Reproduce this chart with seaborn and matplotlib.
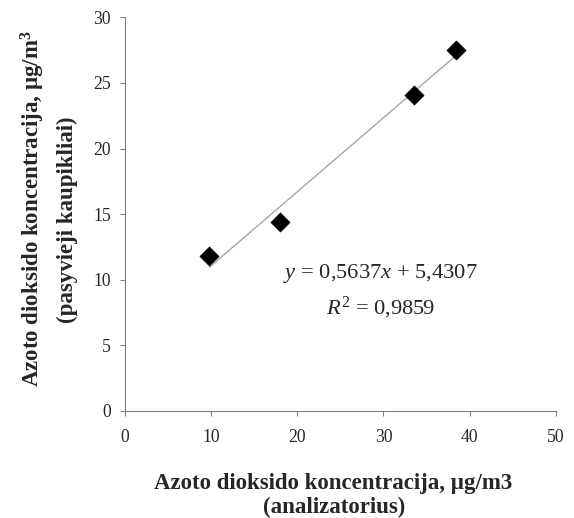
import matplotlib
matplotlib.use("Agg")
import matplotlib.pyplot as plt
import seaborn as sns
import numpy as np
import pandas as pd

x_analyzer = [9.8, 18.0, 33.5, 38.4]
y_passive = [11.8, 14.4, 24.1, 27.5]
slope = 0.5637
intercept = 5.4307
r2_text = "0,9859"
x_ticks = [0, 10, 20, 30, 40, 50]
y_ticks = [0, 5, 10, 15, 20, 25, 30]

sns.set_theme(style="white")
plt.rcParams['font.family'] = ['Liberation Serif', 'DejaVu Serif']
plt.rcParams['mathtext.fontset'] = 'custom'
plt.rcParams['mathtext.rm'] = 'Liberation Serif'
plt.rcParams['mathtext.it'] = 'Liberation Serif:italic'
plt.rcParams['mathtext.bf'] = 'Liberation Serif:bold'

fig = plt.figure(figsize=(5.74, 5.18), dpi=100)
ax = fig.add_axes([0.2178, 0.2066, 0.7504, 0.76])

df = pd.DataFrame({"x": x_analyzer, "y": y_passive})
xs = np.array([min(x_analyzer), max(x_analyzer)])
line_df = pd.DataFrame({"x": xs, "y": slope * xs + intercept})
sns.lineplot(data=line_df, x="x", y="y", ax=ax, color="#a6a6a6", linewidth=1.0)
sns.scatterplot(data=df, x="x", y="y", ax=ax, marker="D", s=90, color="black",
                edgecolor="black", zorder=3)

ax.set_xlim(0, 50)
ax.set_ylim(0, 30)
ax.set_xticks(x_ticks)
ax.set_yticks(y_ticks)
ax.tick_params(axis="both", which="both", direction="out", length=3.6, width=0.8,
               color="#808080", labelsize=12.7, left=True, bottom=True)
ax.tick_params(axis="y", pad=6.5)
ax.tick_params(axis="x", pad=9.5)
for side in ["top", "right"]:
    ax.spines[side].set_visible(False)
for side in ["left", "bottom"]:
    ax.spines[side].set_color("#808080")
    ax.spines[side].set_linewidth(0.8)
ax.set_xlabel("")
ax.set_ylabel("")

H = 518.0
W = 574.0
lab_fs = 16.5
fig.text(333 / W, 1 - 483 / H, "Azoto dioksido koncentracija, µg/m3",
         fontsize=lab_fs, fontweight="bold", ha="center", va="center")
fig.text(334 / W, 1 - 507 / H, "(analizatorius)",
         fontsize=lab_fs, fontweight="bold", ha="center", va="center")
fig.text(33 / W, 1 - 209 / H, "Azoto dioksido koncentracija, µg/m$^\\mathbf{3}$",
         fontsize=lab_fs, fontweight="bold", ha="center", va="center", rotation=90)
fig.text(67 / W, 1 - 220 / H, "(pasyvieji kaupikliai)",
         fontsize=lab_fs, fontweight="bold", ha="center", va="center", rotation=90)

ax.text(29.7, 10.5, "$y$ = 0,5637$x$ + 5,4307", fontsize=16.2, ha="center", va="center")
ax.text(29.7, 7.85, "$R^2$ = " + r2_text, fontsize=16.2, ha="center", va="center")

fig.savefig("out.png", dpi=100)
